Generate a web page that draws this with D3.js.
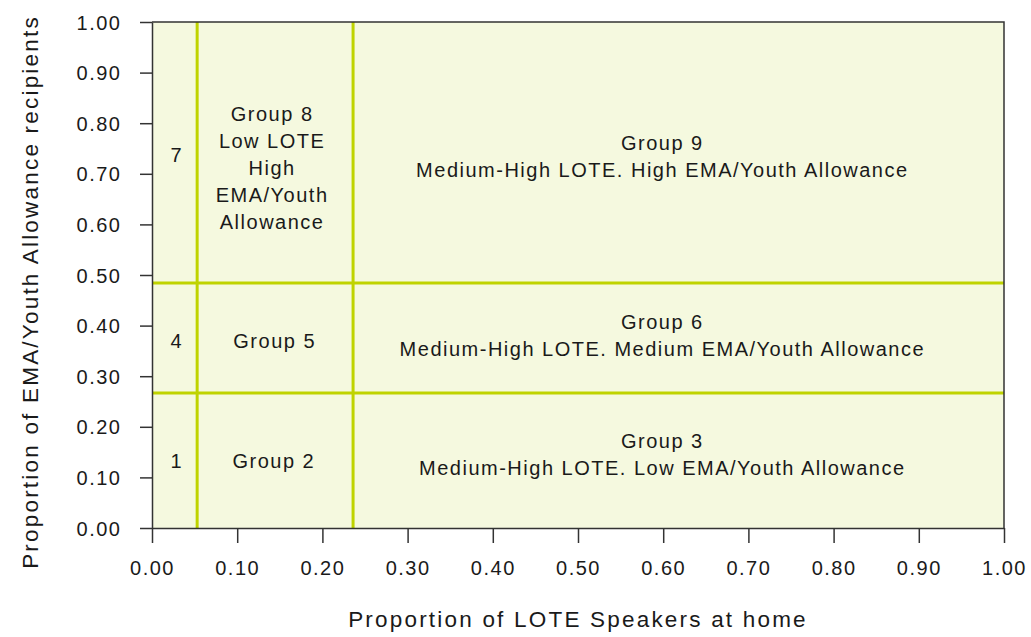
<!DOCTYPE html>
<html>
<head>
<meta charset="utf-8">
<script src="https://cdn.jsdelivr.net/npm/d3@7"></script>
<style>
	body { margin: 0; background: #fff; }
	text { font-family: "Liberation Sans", Arial, sans-serif; fill: #1a1a1a; }
</style>
</head>
<body>
<svg id="main"></svg>
<script>
// breakpoints of the grid, in data units
var xBreaks = [0.053, 0.236];
var yBreaks = [0.267, 0.484];
var xTicks = d3.range(0, 1.0001, 0.1);
var yTicks = d3.range(0, 1.0001, 0.1);
// group labels, anchored in data units
var groupLabels = [
	{lines: ['1'], x: 0.029, y: 0.132},
	{lines: ['Group 2'], x: 0.143, y: 0.132},
	{lines: ['Group 3', 'Medium-High LOTE. Low EMA/Youth Allowance'], x: 0.599, y: 0.145},
	{lines: ['4'], x: 0.029, y: 0.37},
	{lines: ['Group 5'], x: 0.144, y: 0.37},
	{lines: ['Group 6', 'Medium-High LOTE. Medium EMA/Youth Allowance'], x: 0.599, y: 0.381},
	{lines: ['7'], x: 0.029, y: 0.737},
	{lines: ['Group 8', 'Low LOTE', 'High', 'EMA/Youth', 'Allowance'], x: 0.141, y: 0.711},
	{lines: ['Group 9', 'Medium-High LOTE. High EMA/Youth Allowance'], x: 0.599, y: 0.734},
];
var xTitle = 'Proportion of LOTE Speakers at home';
var yTitle = 'Proportion of EMA/Youth Allowance recipients';

var width = 1031, height = 637;
var m = {left: 152, right: 27, top: 22, bottom: 109};
var svg = d3.select('#main').attr('width', width).attr('height', height);

var x = d3.scaleLinear().domain([0, 1]).range([m.left, width - m.right]);
var y = d3.scaleLinear().domain([0, 1]).range([height - m.bottom, m.top]);

var lineColor = '#bfd300';
var axisColor = '#333';

svg.append('rect')
	.attr('x', x(0)).attr('y', y(1))
	.attr('width', x(1) - x(0)).attr('height', y(0) - y(1))
	.attr('fill', '#f5f9df');

// grid dividers
svg.selectAll('.vbreak').data(xBreaks).enter().append('line')
	.attr('x1', d => x(d)).attr('x2', d => x(d))
	.attr('y1', y(0)).attr('y2', y(1))
	.attr('stroke', lineColor).attr('stroke-width', 3);
svg.selectAll('.hbreak').data(yBreaks).enter().append('line')
	.attr('x1', x(0)).attr('x2', x(1))
	.attr('y1', d => y(d)).attr('y2', d => y(d))
	.attr('stroke', lineColor).attr('stroke-width', 3);

// frame (top and right)
svg.append('path')
	.attr('d', `M${x(0)},${y(1)}H${x(1)}V${y(0)}`)
	.attr('fill', 'none').attr('stroke', axisColor).attr('stroke-width', 1.5);

var xAxis = svg.append('g')
	.attr('transform', `translate(0,${y(0)})`)
	.call(d3.axisBottom(x).tickValues(xTicks).tickFormat(d3.format('.2f')).tickSize(15).tickSizeOuter(0));
var yAxis = svg.append('g')
	.attr('transform', `translate(${x(0)},0)`)
	.call(d3.axisLeft(y).tickValues(yTicks).tickFormat(d3.format('.2f')).tickSize(12).tickSizeOuter(0));

[xAxis, yAxis].forEach(a => {
	a.selectAll('path, line').attr('stroke', axisColor).attr('stroke-width', 1.5);
	a.selectAll('text').attr('font-size', 20).attr('fill', '#1a1a1a')
		.style('font-family', '"Liberation Sans", Arial, sans-serif')
		.style('letter-spacing', '1.5px');
});
xAxis.selectAll('text').attr('y', 46.5).attr('dy', 0);
yAxis.selectAll('text').attr('x', -30.5).attr('dy', '0.35em');

// cell labels
var lh = 27;
groupLabels.forEach(g => {
	var cx = x(g.x), cy = y(g.y);
	var t = svg.append('text')
		.attr('text-anchor', 'middle')
		.attr('font-size', 20)
		.style('letter-spacing', '1.5px');
	g.lines.forEach((s, i) => {
		t.append('tspan')
			.attr('x', cx)
			.attr('y', cy + (i - (g.lines.length - 1) / 2) * lh)
			.attr('dy', '0.35em')
			.text(s);
	});
});

svg.append('text')
	.attr('x', (x(0) + x(1)) / 2).attr('y', 627)
	.attr('text-anchor', 'middle').attr('font-size', 22.5)
	.style('letter-spacing', '2.2px')
	.text(xTitle);
svg.append('text')
	.attr('transform', `translate(30,292) rotate(-90)`)
	.attr('text-anchor', 'middle').attr('font-size', 22.5)
	.style('letter-spacing', '2.2px')
	.attr('dy', '0.35em')
	.text(yTitle);
</script>
</body>
</html>
